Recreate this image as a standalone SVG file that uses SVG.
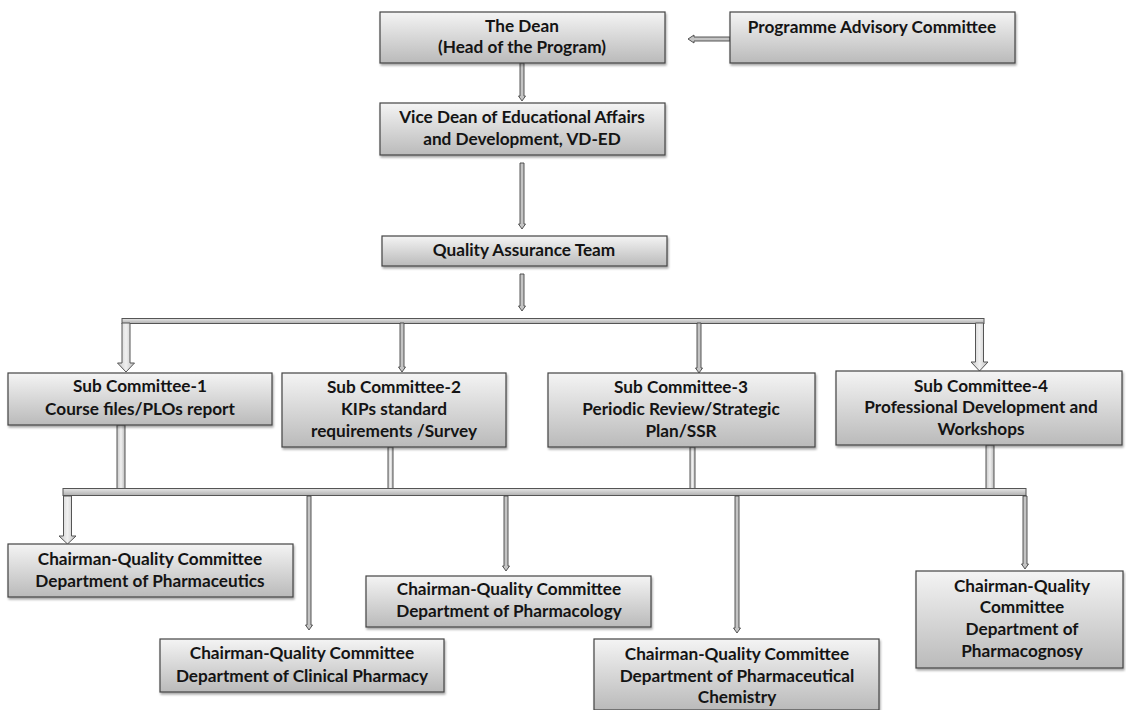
<svg xmlns="http://www.w3.org/2000/svg" width="1126" height="710" viewBox="0 0 1126 710">
  <defs>
    <linearGradient id="boxFill" x1="0" y1="0" x2="0" y2="1">
      <stop offset="0" stop-color="#f4f4f4"/>
      <stop offset="1" stop-color="#bababa"/>
    </linearGradient>
    <linearGradient id="barFill" x1="0" y1="0" x2="0" y2="1">
      <stop offset="0" stop-color="#e6e6e6"/>
      <stop offset="1" stop-color="#b0b0b0"/>
    </linearGradient>
    <linearGradient id="shaftFill" x1="0" y1="0" x2="1" y2="0">
      <stop offset="0" stop-color="#c8c8c8"/>
      <stop offset="0.5" stop-color="#f0f0f0"/>
      <stop offset="1" stop-color="#bcbcbc"/>
    </linearGradient>
    <filter id="shadow" x="-5%" y="-10%" width="110%" height="130%">
      <feDropShadow dx="1" dy="2" stdDeviation="1.2" flood-color="#000" flood-opacity="0.35"/>
    </filter>
  </defs>
  <style>
    .box { fill: url(#boxFill); stroke: #444; stroke-width: 1.2; filter: url(#shadow); }
    .lbl { font-family: Lato, "Liberation Sans", sans-serif; font-weight: 700; font-size: 17.2px; fill: #141414; text-anchor: middle; }
    .bar { fill: url(#barFill); stroke: #555; stroke-width: 1; }
    .thin { fill: #c4c4c4; stroke: #444; stroke-width: 0.9; }
    .wide { fill: url(#shaftFill); stroke: #555; stroke-width: 1; }
  </style>

  <rect width="1126" height="710" fill="#ffffff"/>

  <!-- connectors -->
  <g id="connectors">
    <!-- advisory committee to dean -->
    <polygon class="thin" points="730,37 694,37 694,35 688,39 694,43 694,41 730,41"/>
    <!-- dean to vice dean -->
    <polygon class="thin" points="520,63 524,63 524,96 525.5,96 522,101 518.5,96 520,96"/>
    <!-- vice dean to quality team -->
    <polygon class="thin" points="520,163 524,163 524,224 525.5,224 522,229 518.5,224 520,224"/>
    <!-- quality team to upper bus -->
    <polygon class="thin" points="520,274 524,274 524,306 525.5,306 522,311 518.5,306 520,306"/>

    <!-- upper bus -->
    <rect class="bar" x="122" y="318.5" width="862" height="5"/>

    <!-- bus to sub committees -->
    <polygon class="wide" points="122,323 130,323 130,363 134.5,363 126,372 117.5,363 122,363"/>
    <polygon class="thin" points="400,323 404,323 404,367 405.5,367 402,372 398.5,367 400,367"/>
    <polygon class="thin" points="697,323 701,323 701,368 702.5,368 699,373 695.5,368 697,368"/>
    <polygon class="wide" points="975.5,323 983.5,323 983.5,362 988,362 979.5,371 971,362 975.5,362"/>

    <!-- risers from sub committees -->
    <rect class="wide" x="117" y="425" width="8" height="63.5"/>
    <rect class="wide" x="388" y="447" width="5" height="41.5"/>
    <rect class="wide" x="690" y="447" width="5" height="41.5"/>
    <rect class="wide" x="986" y="445" width="8" height="43.5"/>

    <!-- lower bus -->
    <rect class="bar" x="63" y="488.5" width="963" height="7"/>

    <!-- lower bus to department committees -->
    <polygon class="wide" points="63.5,496 71.5,496 71.5,536 76,536 67.5,544 59,536 63.5,536"/>
    <polygon class="thin" points="307,496 311,496 311,625 312.5,625 309,630 305.5,625 307,625"/>
    <polygon class="thin" points="504,496 508,496 508,566 509.5,566 506,571 502.5,566 504,566"/>
    <polygon class="thin" points="735,496 739,496 739,628 740.5,628 737,633 733.5,628 735,628"/>
    <polygon class="thin" points="1023,496 1027,496 1027,564 1028.5,564 1025,569 1021.5,564 1023,564"/>
  </g>

  <!-- nodes -->
  <g id="dean">
    <rect class="box" x="380" y="12" width="285" height="51"/>
    <text class="lbl" x="522" y="32">The Dean</text>
    <text class="lbl" x="522" y="53">(Head of the Program)</text>
  </g>

  <g id="advisory-committee">
    <rect class="box" x="730" y="12" width="285" height="51"/>
    <text class="lbl" x="872" y="33">Programme Advisory Committee</text>
  </g>

  <g id="vice-dean">
    <rect class="box" x="380" y="103" width="285" height="52"/>
    <text class="lbl" x="522" y="123">Vice Dean of Educational Affairs</text>
    <text class="lbl" x="522" y="145">and Development, VD-ED</text>
  </g>

  <g id="quality-team">
    <rect class="box" x="382" y="236" width="285" height="30"/>
    <text class="lbl" x="524" y="256">Quality Assurance Team</text>
  </g>

  <g id="sub-committee-1">
    <rect class="box" x="8" y="373" width="264" height="52"/>
    <text class="lbl" x="140" y="392">Sub Committee-1</text>
    <text class="lbl" x="140" y="415">Course files/PLOs report</text>
  </g>

  <g id="sub-committee-2">
    <rect class="box" x="282" y="373" width="224" height="74"/>
    <text class="lbl" x="394" y="393">Sub Committee-2</text>
    <text class="lbl" x="394" y="415">KIPs standard</text>
    <text class="lbl" x="394" y="437">requirements /Survey</text>
  </g>

  <g id="sub-committee-3">
    <rect class="box" x="548" y="373" width="267" height="74"/>
    <text class="lbl" x="681" y="393">Sub Committee-3</text>
    <text class="lbl" x="681" y="415">Periodic Review/Strategic</text>
    <text class="lbl" x="681" y="437">Plan/SSR</text>
  </g>

  <g id="sub-committee-4">
    <rect class="box" x="836" y="371" width="286" height="74"/>
    <text class="lbl" x="981" y="392">Sub Committee-4</text>
    <text class="lbl" x="981" y="413">Professional Development and</text>
    <text class="lbl" x="981" y="435">Workshops</text>
  </g>

  <g id="dept-pharmaceutics">
    <rect class="box" x="8" y="544" width="285" height="53"/>
    <text class="lbl" x="150" y="565">Chairman-Quality Committee</text>
    <text class="lbl" x="150" y="587">Department of Pharmaceutics</text>
  </g>

  <g id="dept-clinical-pharmacy">
    <rect class="box" x="160" y="639" width="284" height="53"/>
    <text class="lbl" x="302" y="659">Chairman-Quality Committee</text>
    <text class="lbl" x="302" y="682">Department of Clinical Pharmacy</text>
  </g>

  <g id="dept-pharmacology">
    <rect class="box" x="366" y="576" width="285" height="51"/>
    <text class="lbl" x="509" y="595">Chairman-Quality Committee</text>
    <text class="lbl" x="509" y="617">Department of Pharmacology</text>
  </g>

  <g id="dept-pharmaceutical-chemistry">
    <rect class="box" x="594" y="639" width="285" height="71"/>
    <text class="lbl" x="737" y="660">Chairman-Quality Committee</text>
    <text class="lbl" x="737" y="682">Department of Pharmaceutical</text>
    <text class="lbl" x="737" y="703">Chemistry</text>
  </g>

  <g id="dept-pharmacognosy">
    <rect class="box" x="916" y="571" width="207" height="97"/>
    <text class="lbl" x="1022" y="592">Chairman-Quality</text>
    <text class="lbl" x="1022" y="613">Committee</text>
    <text class="lbl" x="1022" y="635">Department of</text>
    <text class="lbl" x="1022" y="657">Pharmacognosy</text>
  </g>
</svg>
